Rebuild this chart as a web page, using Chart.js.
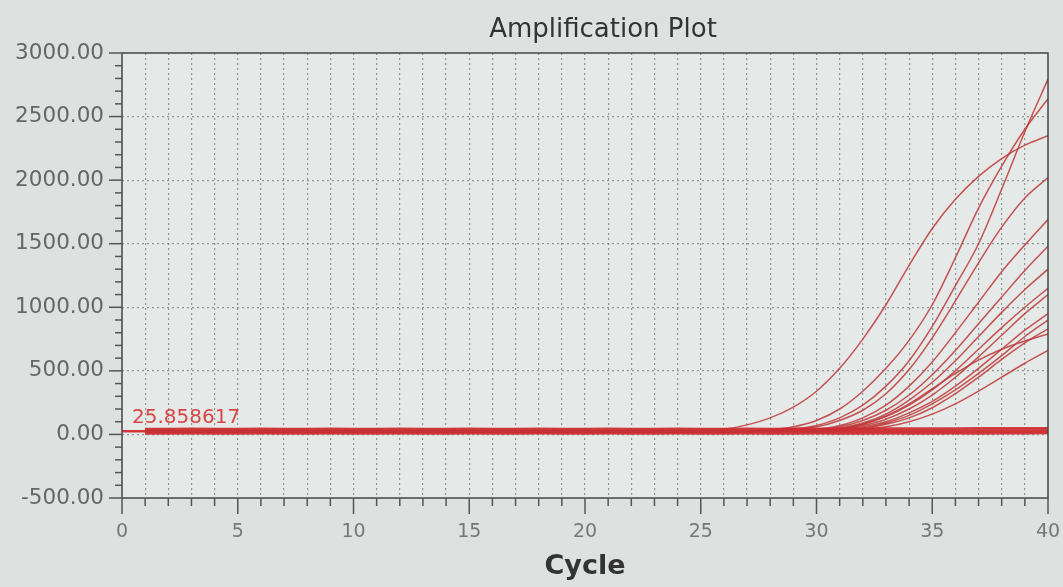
<!DOCTYPE html>
<html>
<head>
<meta charset="utf-8">
<script src="https://cdn.jsdelivr.net/npm/chart.js@4.4.1/dist/chart.umd.min.js"></script>
<style>
  html, body { margin: 0; padding: 0; background: #dde1df; }
  #wrap { width: 1063px; height: 587px; }
</style>
</head>
<body>
<div id="wrap"><canvas id="amp"></canvas></div>
<script>
const cycles = [1,2,3,4,5,6,7,8,9,10,11,12,13,14,15,16,17,18,19,20,21,22,23,24,25,26,27,28,29,30,31,32,33,34,35,36,37,38,39,40];

// amplification curves (rfu per cycle)
const ampA = [25,24,25,25,24,25,25,24,25,25,24,25,25,24,25,25,24,25,25,24,25,25,24,25,25,26,28,35,60,110,200,340,520,740,1020,1390,1780,2110,2400,2640];
const ampB = [26,25,25,26,25,25,26,25,25,26,25,25,26,25,25,26,25,25,26,25,25,26,25,25,26,25,26,30,40,70,130,230,380,580,850,1170,1500,1930,2380,2795];
const ampC = [24,24,25,24,24,25,24,24,25,24,24,25,24,24,25,24,24,25,24,24,25,24,24,25,26,40,75,130,215,340,520,750,1020,1330,1620,1850,2030,2170,2275,2350];
const ampD = [27,26,26,27,26,26,27,26,26,27,26,26,27,26,26,27,26,26,27,26,26,27,26,26,27,26,28,35,45,60,110,190,320,510,760,1050,1350,1630,1860,2020];
const ampE = [23,23,24,23,23,24,23,23,24,23,23,24,23,23,24,23,23,24,23,23,24,23,23,24,23,24,26,28,32,40,70,130,230,380,570,800,1040,1280,1490,1690];
const ampF = [22,22,23,22,22,23,22,22,23,22,22,23,22,22,23,22,22,23,22,22,23,22,22,23,22,24,26,28,30,36,60,110,190,310,470,660,870,1080,1290,1480];
const ampG = [28,28,27,28,28,27,28,28,27,28,28,27,28,28,27,28,28,27,28,28,27,28,28,27,28,27,26,27,29,34,50,90,160,270,410,580,770,960,1140,1300];
const ampH = [21,21,22,21,21,22,21,21,22,21,21,22,21,21,22,21,21,22,21,21,22,21,21,22,21,23,25,26,28,32,45,80,140,230,350,500,670,840,1000,1150];
const ampI = [29,29,28,29,29,28,29,29,28,29,29,28,29,29,28,29,29,28,29,29,28,29,29,28,29,27,25,26,27,30,40,70,120,200,310,450,610,780,950,1100];
const ampJ = [20,20,21,20,20,21,20,20,21,20,20,21,20,20,21,20,20,21,20,20,21,20,20,21,20,22,25,25,27,30,38,60,100,170,260,380,520,670,820,950];
const ampK = [30,30,29,30,30,29,30,30,29,30,30,29,30,30,29,30,30,29,30,30,29,30,30,29,30,28,25,25,26,28,33,50,90,150,240,350,480,620,770,900];
const ampL = [19,19,20,19,19,20,19,19,20,19,19,20,19,19,20,19,19,20,19,19,20,19,19,20,19,22,25,25,26,27,31,45,80,130,210,320,450,590,720,830];
const ampM = [31,31,30,31,31,30,31,31,30,31,31,30,31,31,30,31,31,30,31,31,30,31,31,30,31,28,25,26,28,33,45,80,145,240,360,480,585,670,735,790];
const ampN = [18,18,19,18,18,19,18,18,19,18,18,19,18,18,19,18,18,19,18,18,19,18,18,19,18,21,25,25,25,26,29,38,60,100,160,240,340,450,560,660];

// flat (no amplification) wells
const flat1 = [6,6,7,6,6,7,6,6,7,6,6,7,6,6,7,6,6,7,6,6,7,6,6,7,6,6,7,6,6,7,6,6,7,6,6,7,6,7,8,9];
const flat2 = [15,15,14,15,15,14,15,15,14,15,15,14,15,15,14,15,15,14,15,15,14,15,15,14,15,15,14,15,15,14,15,15,14,15,15,14,15,16,16,17];
const flat3 = [36,36,37,36,36,37,36,36,37,36,36,37,36,36,37,36,36,37,36,36,37,36,36,37,36,36,37,36,36,37,36,37,37,38,38,39,39,40,40,41];
const flat4 = [45,45,46,45,45,46,45,45,46,45,45,46,45,45,46,45,45,46,45,45,46,45,45,46,45,45,46,45,46,46,47,47,48,48,49,49,50,50,51,51];

const threshold = 25.858617;
const thresholdSpan = [0, 40];

const ampCurves = [ampA, ampB, ampC, ampD, ampE, ampF, ampG, ampH, ampI, ampJ, ampK, ampL, ampM, ampN];
const flatCurves = [flat1, flat2, flat3, flat4];

function toPoints(arr) {
    return cycles.map((c, i) => ({ x: c, y: arr[i] }));
}

const datasets = [];
flatCurves.forEach(arr => {
    datasets.push({
        data: toPoints(arr),
        borderColor: 'rgba(205,45,50,0.9)',
        borderWidth: 2,
        pointRadius: 0,
        fill: false
    });
});
ampCurves.forEach(arr => {
    datasets.push({
        data: toPoints(arr),
        borderColor: 'rgba(190,55,55,0.85)',
        borderWidth: 1.5,
        pointRadius: 0,
        fill: false,
        cubicInterpolationMode: 'monotone'
    });
});
datasets.push({
    data: thresholdSpan.map(x => ({ x: x, y: threshold })),
    borderColor: 'rgba(210,45,50,0.95)',
    borderWidth: 2.5,
    pointRadius: 0,
    fill: false
});

const plotDecor = {
    id: 'plotDecor',
    beforeDraw(chart) {
        const { ctx, chartArea: a } = chart;
        ctx.save();
        ctx.fillStyle = '#e5e9e7';
        ctx.fillRect(a.left, a.top, a.right - a.left, a.bottom - a.top);
        ctx.restore();
    },
    afterDraw(chart) {
        const { ctx, chartArea: a, scales } = chart;
        ctx.save();
        ctx.strokeStyle = '#444';
        ctx.lineWidth = 1.5;
        ctx.strokeRect(a.left, a.top, a.right - a.left, a.bottom - a.top);

        // tick marks
        ctx.strokeStyle = '#555';
        ctx.lineWidth = 1.5;
        scales.y.ticks.forEach(t => {
            const py = scales.y.getPixelForValue(t.value);
            const len = t.value % 500 === 0 ? 13 : 7;
            ctx.beginPath();
            ctx.moveTo(a.left - len, py);
            ctx.lineTo(a.left, py);
            ctx.stroke();
        });
        scales.x.ticks.forEach(t => {
            const px = scales.x.getPixelForValue(t.value);
            const len = t.value % 5 === 0 ? 16 : 8;
            ctx.beginPath();
            ctx.moveTo(px, a.bottom);
            ctx.lineTo(px, a.bottom + len);
            ctx.stroke();
        });

        // title
        ctx.fillStyle = '#333';
        ctx.font = '26px "DejaVu Sans", sans-serif';
        ctx.textAlign = 'center';
        ctx.textBaseline = 'middle';
        ctx.fillText('Amplification Plot', 603, 30);

        // threshold value
        ctx.fillStyle = 'rgba(215,60,60,0.95)';
        ctx.font = '20px "DejaVu Sans", sans-serif';
        ctx.textAlign = 'left';
        ctx.fillText(threshold.toFixed(6), scales.x.getPixelForValue(0) + 10, scales.y.getPixelForValue(threshold) - 13);
        ctx.restore();
    }
};

new Chart(document.getElementById('amp'), {
    type: 'line',
    data: { datasets: datasets },
    plugins: [plotDecor],
    options: {
        responsive: true,
        maintainAspectRatio: false,
        animation: false,
        layout: { padding: { top: 53, right: 15, left: 0, bottom: 0 } },
        plugins: {
            legend: { display: false },
            tooltip: { enabled: false }
        },
        scales: {
            x: {
                type: 'linear',
                min: 0,
                max: 40,
                afterFit: s => { s.height = 89; s.paddingRight = 0; s.paddingLeft = 0; },
                ticks: {
                    stepSize: 1,
                    autoSkip: false,
                    maxRotation: 0,
                    padding: 23,
                    color: '#777',
                    font: { family: 'DejaVu Sans', size: 19 },
                    callback: v => (v % 5 === 0 ? String(v) : '')
                },
                grid: {
                    drawTicks: false,
                    color: ctx => (ctx.tick && ctx.tick.value > 0 && ctx.tick.value < 40 ? 'rgba(110,115,112,0.7)' : 'rgba(0,0,0,0)'),
                    lineWidth: 1.2
                },
                border: { display: false, dash: [2, 3] },
                title: {
                    display: true,
                    text: 'Cycle',
                    color: '#333',
                    font: { family: 'DejaVu Sans', size: 27, weight: 'bold' },
                    padding: { top: 0, bottom: 4 }
                }
            },
            y: {
                min: -500,
                max: 3000,
                afterFit: s => { s.width = 122; s.paddingTop = 0; s.paddingBottom = 0; },
                ticks: {
                    stepSize: 100,
                    autoSkip: false,
                    padding: 18,
                    color: '#666',
                    font: { family: 'DejaVu Sans', size: 21.5 },
                    callback: v => (v % 500 === 0 ? v.toFixed(2) : '')
                },
                grid: {
                    drawTicks: false,
                    color: ctx => (ctx.tick && ctx.tick.value % 500 === 0 && ctx.tick.value > -500 && ctx.tick.value < 3000 ? 'rgba(110,115,112,0.7)' : 'rgba(0,0,0,0)'),
                    lineWidth: 1.2
                },
                border: { display: false, dash: [2, 3] }
            }
        }
    }
});
</script>
</body>
</html>
